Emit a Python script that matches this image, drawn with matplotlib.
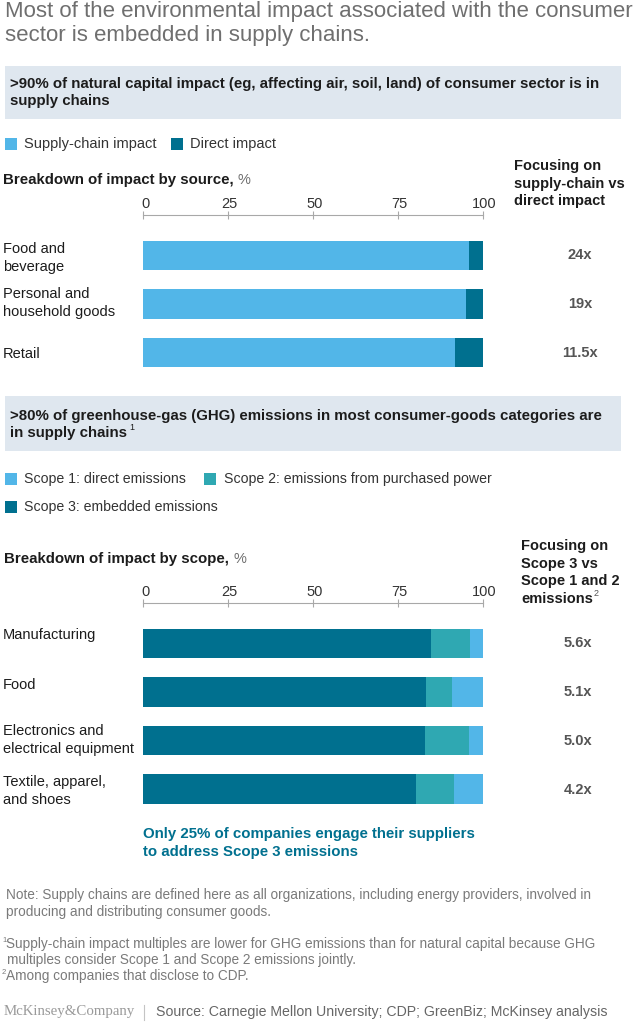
#!/usr/bin/env python3
"""Supply-chain share of consumer sector environmental impact."""

import matplotlib

matplotlib.use("Agg")
import matplotlib.pyplot as plt
from matplotlib.patches import Rectangle
from matplotlib.transforms import ScaledTranslation

plt.rcParams["font.family"] = ["Liberation Sans", "DejaVu Sans"]

WIDTH, HEIGHT = 635, 1024

LIGHT_BLUE = "#52b6e8"
MID_TEAL = "#2fa8b2"
DARK_TEAL = "#00708f"
PANEL = "#dfe7ef"
INK = "#1c1c1c"
GREY = "#6f6f6f"
NOTE = "#7a7a7a"
BOLD_SIZE = 10.85

ticks = [0, 25, 50, 75, 100]

source_labels = ["Food and\nbeverage", "Personal and\nhousehold goods", "Retail"]
supply_chain = [96, 95, 92]
direct = [4, 5, 8]
source_multiples = ["24x", "19x", "11.5x"]

scope_labels = [
    "Manufacturing",
    "Food",
    "Electronics and\nelectrical equipment",
    "Textile, apparel,\nand shoes",
]
scope3 = [84.8, 83.4, 83.0, 80.4]
scope2 = [11.5, 7.6, 13.0, 11.3]
scope1 = [3.7, 9.0, 4.0, 8.3]
scope_multiples = ["5.6x", "5.1x", "5.0x", "4.2x"]

fig = plt.figure(figsize=(WIDTH / 100, HEIGHT / 100), dpi=100, facecolor="white")

# overlay in pixel coordinates for the text and the panels
page = fig.add_axes([0, 0, 1, 1])
page.set_xlim(0, WIDTH)
page.set_ylim(HEIGHT, 0)
page.axis("off")


def put(x, y, s, size=10.5, color=INK, weight="normal", **kw):
    kw.setdefault("va", "center")
    page.text(x, y, s, fontsize=size, color=color, fontweight=weight, **kw)


def swatch(x, y, color):
    page.add_patch(Rectangle((x, y - 6), 12, 12, facecolor=color, edgecolor="none"))


def draw_bars(axis_px, first_px, step_px, names, series, colors):
    # spine sits on the pixel row axis_px, first bar centred on first_px
    n = len(names)
    bottom_px = first_px + (n - 0.5) * step_px
    ax = fig.add_axes([
        143 / WIDTH,
        1 - bottom_px / HEIGHT,
        339.5 / WIDTH,
        (bottom_px - axis_px) / HEIGHT,
    ])
    ax.patch.set_alpha(0)
    ax.set_xlim(0, 100)
    ax.set_ylim(n - 0.5, -(first_px - axis_px) / step_px)
    positions = list(range(n))
    left = [0] * n
    for values, color in zip(series, colors):
        ax.barh(positions, values, left=left, height=29.5 / step_px, color=color, linewidth=0)
        left = [a + b for a, b in zip(left, values)]
    for side in ["left", "right", "bottom"]:
        ax.spines[side].set_visible(False)
    ax.spines["top"].set_color("#a8a8a8")
    ax.spines["top"].set_linewidth(0.8)
    ax.set_yticks([])
    ax.set_xticks(ticks)
    ax.xaxis.tick_top()
    ax.tick_params(axis="x", direction="inout", length=6, width=0.8, color="#a8a8a8",
                   labelsize=10.5, labelcolor="#333333", pad=0)
    # the reference prints its scale numbers a little right of the ticks
    shift = ScaledTranslation(2 / 100, 0, fig.dpi_scale_trans)
    for label in ax.get_xticklabels():
        label.set_transform(label.get_transform() + shift)
    return ax


# title
put(5, 12, "Most of the environmental impact associated with the consumer", size=16.05, color=GREY)
put(5, 36, "sector is embedded in supply chains.", size=16.05, color=GREY)

# first panel
page.add_patch(Rectangle((5, 66), 616, 53, facecolor=PANEL, edgecolor="none"))
put(10, 84, ">90% of natural capital impact (eg, affecting air, soil, land) of consumer sector is in",
    size=BOLD_SIZE, weight="bold")
put(10, 101, "supply chains", size=BOLD_SIZE, weight="bold")

swatch(5, 144, LIGHT_BLUE)
put(24, 144, "Supply-chain impact", color="#333333")
swatch(171, 144, DARK_TEAL)
put(190, 144, "Direct impact", color="#333333")

put(3, 180, "Breakdown of impact by source,", size=BOLD_SIZE, weight="bold")
put(238, 180, "%", color=GREY)
for y, line in zip([166, 184, 201], ["Focusing on", "supply-chain vs", "direct impact"]):
    put(514, y, line, weight="bold")

draw_bars(215, 255.5, 48.5, source_labels, [supply_chain, direct], [LIGHT_BLUE, DARK_TEAL])

for y, label in zip([258, 303, 354], source_labels):
    put(3, y, label, linespacing=1.4)
for y, label in zip([255, 304, 353], source_multiples):
    put(580, y, label, weight="bold", color="#555555", ha="center")

# second panel
page.add_patch(Rectangle((5, 396), 616, 55, facecolor=PANEL, edgecolor="none"))
put(10, 416, ">80% of greenhouse-gas (GHG) emissions in most consumer-goods categories are",
    size=BOLD_SIZE, weight="bold")
put(10, 433, "in supply chains", size=BOLD_SIZE, weight="bold")
put(129, 428, "1", size=6.5)

swatch(5, 479, LIGHT_BLUE)
put(24, 479, "Scope 1: direct emissions", size=10.2, color="#333333")
swatch(204, 479, MID_TEAL)
put(224, 479, "Scope 2: emissions from purchased power", size=10.2, color="#333333")
swatch(5, 507, DARK_TEAL)
put(24, 507, "Scope 3: embedded emissions", size=10.2, color="#333333")

put(4, 559, "Breakdown of impact by scope,", size=BOLD_SIZE, weight="bold")
put(234, 559, "%", color=GREY)
for y, line in zip([546, 564, 581, 599],
                   ["Focusing on", "Scope 3 vs", "Scope 1 and 2", "emissions"]):
    put(521, y, line, weight="bold")
put(594, 594, "2", size=6.5, color="#555555")

draw_bars(603, 643.5, 48.5, scope_labels, [scope3, scope2, scope1],
          [DARK_TEAL, MID_TEAL, LIGHT_BLUE])

for y, label in zip([635, 685, 740, 791], scope_labels):
    put(3, y, label, linespacing=1.4)
for y, label in zip([643, 692, 741, 790], scope_multiples):
    put(578, y, label, weight="bold", color="#555555", ha="center")

put(143, 834, "Only 25% of companies engage their suppliers", size=BOLD_SIZE, weight="bold", color=DARK_TEAL)
put(143, 852, "to address Scope 3 emissions", size=BOLD_SIZE, weight="bold", color=DARK_TEAL)

# notes
put(6, 895, "Note: Supply chains are defined here as all organizations, including energy providers, involved in",
    size=9.85, color=NOTE)
put(6, 912, "producing and distributing consumer goods.", size=9.85, color=NOTE)
put(2, 940, "1", size=5.5, color=NOTE)
put(6, 944, "Supply-chain impact multiples are lower for GHG emissions than for natural capital because GHG",
    size=9.85, color=NOTE)
put(7, 960, "multiples consider Scope 1 and Scope 2 emissions jointly.", size=9.85, color=NOTE)
put(2, 973, "2", size=5.5, color=NOTE)
put(6, 976, "Among companies that disclose to CDP.", size=9.85, color=NOTE)

# footer
put(4, 1012, "McKinsey&Company", size=10.7, color="#9a9a9a", family="Liberation Serif")
page.plot([144, 144], [1005, 1020], color="#c4c4c4", linewidth=0.8)
put(156, 1012, "Source: Carnegie Mellon University; CDP; GreenBiz; McKinsey analysis", size=10.2, color="#666666")

fig.savefig("out.png", dpi=100, facecolor="white")
